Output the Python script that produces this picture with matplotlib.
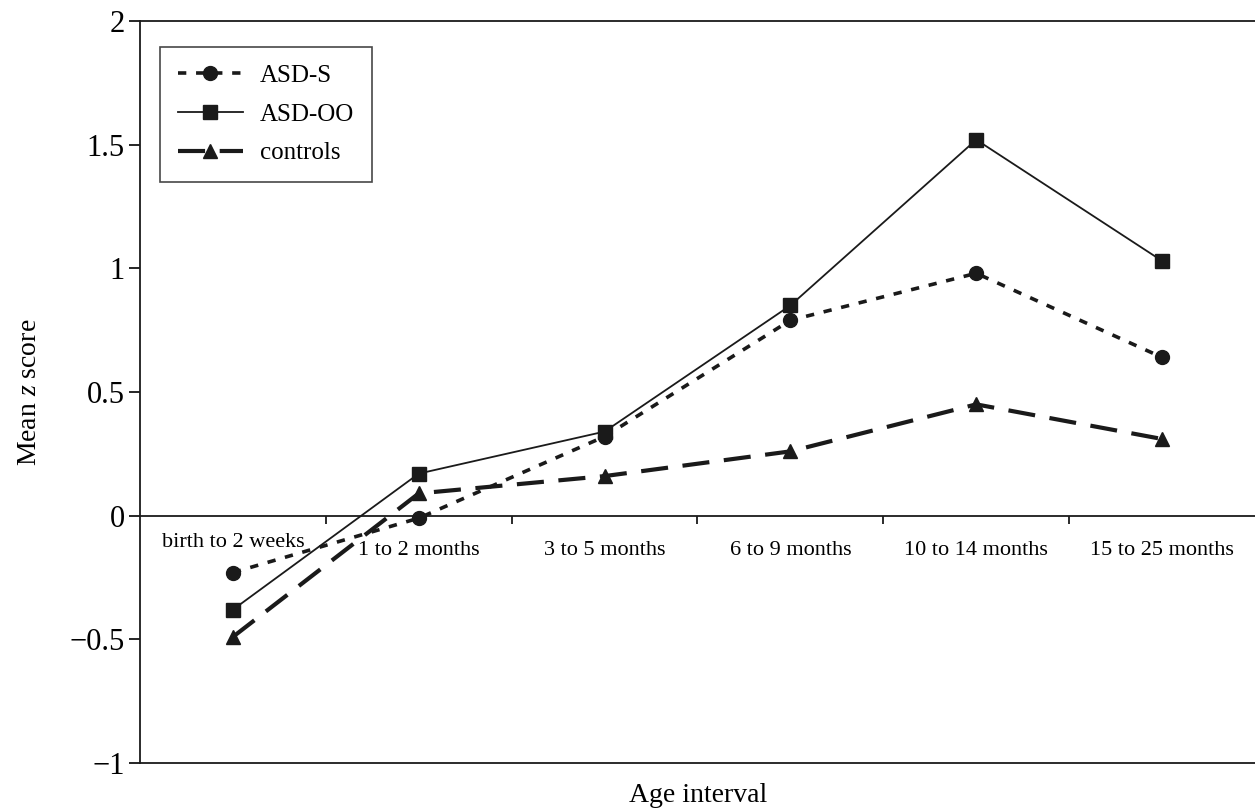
import matplotlib
matplotlib.use("Agg")
import matplotlib.pyplot as plt

plt.rcParams['font.family'] = ['Liberation Serif', 'DejaVu Serif']
plt.rcParams['mathtext.fontset'] = 'custom'
plt.rcParams['mathtext.it'] = 'Liberation Serif:italic'
plt.rcParams['mathtext.rm'] = 'Liberation Serif'

categories = ['birth to 2 weeks', '1 to 2 months', '3 to 5 months',
              '6 to 9 months', '10 to 14 months', '15 to 25 months']
asd_s = [-0.23, -0.01, 0.32, 0.79, 0.98, 0.64]
asd_oo = [-0.38, 0.17, 0.34, 0.85, 1.52, 1.03]
controls = [-0.49, 0.09, 0.16, 0.26, 0.45, 0.31]
yticks = [-1, -0.5, 0, 0.5, 1, 1.5, 2]
ytick_labels = ['\u22121', '\u22120.5', '0', '0.5', '1', '1.5', '2']

fig = plt.figure(figsize=(12.55, 8.1), dpi=100)
ax = fig.add_axes([140/1255, 1 - 763/810, 1 - 140/1255, (763 - 21)/810])

x = list(range(len(categories)))
ax.plot(x, asd_s, color='#1a1a1a', lw=2.6, linestyle=(0, (2.3, 2.7)),
        marker='o', markersize=10, label='ASD-S')
ax.plot(x, asd_oo, color='#1a1a1a', lw=1.3, linestyle='-',
        marker='s', markersize=10, label='ASD-OO')
ax.plot(x, controls, color='#1a1a1a', lw=3.0, linestyle=(0, (6.5, 3.5)),
        marker='^', markersize=10, label='controls')

ax.set_xlim(-0.5, len(categories) - 0.5)
ax.set_ylim(-1, 2)

# zero line with boundary ticks
ax.axhline(0, color='#1a1a1a', lw=1.3, zorder=1)
ax.vlines([i + 0.5 for i in range(len(categories) - 1)], -0.032, 0,
          color='#1a1a1a', lw=1.3)
for i, c in enumerate(categories):
    off = -19 if i == 0 else -25
    ax.annotate(c, (i, 0), xytext=(0, off), textcoords='offset points',
                ha='center', va='center', fontsize=16)

ax.set_xticks([])
ax.set_yticks(yticks)
ax.set_yticklabels(ytick_labels, fontsize=22)
ax.tick_params(axis='y', direction='out', length=8, width=1.2, pad=3)

for s in ['left', 'top', 'bottom']:
    ax.spines[s].set_linewidth(1.3)
    ax.spines[s].set_color('#1a1a1a')
ax.spines['right'].set_visible(False)

ax.set_ylabel('Mean $z$ score', fontsize=20, labelpad=20)
fig.text(698/1255, 1 - 795/810, 'Age interval', ha='center', va='center',
         fontsize=20)

leg = ax.legend(loc='upper left', bbox_to_anchor=(0.018, 0.965), fontsize=18,
                frameon=True, fancybox=False, handlelength=2.6,
                borderaxespad=0, borderpad=0.7, labelspacing=0.65,
                handletextpad=0.7)
leg.get_frame().set_edgecolor('#1a1a1a')
leg.get_frame().set_linewidth(1.2)

fig.savefig('out.png', dpi=100)
